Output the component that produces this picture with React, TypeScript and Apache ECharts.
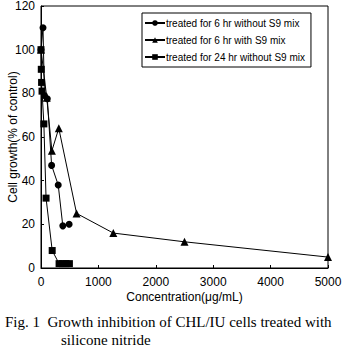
import React, { useEffect, useRef } from "react";
import * as echarts from "echarts";

const seriesNames = [
  "treated for 6 hr without S9 mix",
  "treated for 6 hr with S9 mix",
  "treated for 24 hr without S9 mix",
];

const circleData: [number, number][] = [
  [0, 100], [35, 110], [60, 79], [110, 77.5], [185, 47], [300, 38], [380, 19.3], [490, 20],
];
const triangleData: [number, number][] = [
  [0, 100], [100, 78], [190, 53.7], [310, 64], [620, 25], [1260, 16], [2500, 12], [5000, 5],
];
const squareData: [number, number][] = [
  [0, 100], [5, 91], [10, 85], [18, 81], [50, 66], [88, 32], [195, 8], [315, 2], [375, 2], [435, 2], [495, 2],
];

const xTicks = [0, 1000, 2000, 3000, 4000, 5000];
const yTicks = [0, 20, 40, 60, 80, 100, 120];

const captionLine1 = "Fig. 1  Growth inhibition of CHL/IU cells treated with";
const captionLine2 = "silicone nitride";

export default function App() {
  const ref = useRef<HTMLDivElement>(null);
  useEffect(() => {
    if (!ref.current) return;
    const chart = echarts.init(ref.current, null, { renderer: "svg" });
    const font = "Liberation Sans, Arial, sans-serif";
    const mk = (name: string, data: [number, number][], symbol: string, size: number) => ({
      name,
      type: "line",
      data,
      symbol,
      symbolSize: size,
      lineStyle: { color: "#000", width: 1 },
      itemStyle: { color: "#000" },
      z: 3,
    });
    chart.setOption({
      animation: false,
      backgroundColor: "#fff",
      grid: {
        left: 41, right: 14, top: 6, bottom: 81,
        containLabel: false, outerBoundsMode: "none",
        show: true, borderColor: "#000", borderWidth: 1,
      },
      xAxis: {
        type: "value",
        min: xTicks[0],
        max: xTicks[xTicks.length - 1],
        interval: 1000,
        name: "Concentration(μg/mL)",
        nameLocation: "middle",
        nameGap: 23,
        nameMoveOverlap: false,
        nameTextStyle: { color: "#000", fontSize: 12, fontFamily: font },
        axisLine: { lineStyle: { color: "#000", width: 1 } },
        axisTick: { inside: true, length: 3, lineStyle: { color: "#000" } },
        axisLabel: { color: "#000", fontSize: 12, fontFamily: font, margin: 8, formatter: (v: number) => String(v) },
        splitLine: { show: false },
      },
      yAxis: {
        type: "value",
        min: yTicks[0],
        max: yTicks[yTicks.length - 1],
        interval: 20,
        name: "Cell growth(% of control)",
        nameLocation: "middle",
        nameGap: 22,
        nameMoveOverlap: false,
        nameTextStyle: { color: "#000", fontSize: 12, fontFamily: font },
        axisLine: { lineStyle: { color: "#000", width: 1 } },
        axisTick: { inside: true, length: 3, lineStyle: { color: "#000" } },
        axisLabel: { color: "#000", fontSize: 12, fontFamily: font, margin: 6, formatter: (v: number) => String(v) },
        splitLine: { show: false },
      },
      legend: {
        orient: "vertical",
        left: 142,
        top: 13,
        padding: [5, 6, 5, 2],
        itemGap: 7,
        itemWidth: 20,
        itemHeight: 7,
        borderColor: "#000",
        borderWidth: 1,
        backgroundColor: "#fff",
        textStyle: { color: "#000", fontSize: 10, fontFamily: font, padding: [0, 0, 0, -4] },
        data: seriesNames,
      },
      series: [
        mk(seriesNames[0], circleData, "circle", 7),
        mk(seriesNames[1], triangleData, "triangle", 8),
        mk(seriesNames[2], squareData, "rect", 7),
      ],
      graphic: [
        {
          type: "text",
          left: 5,
          top: 314,
          style: { text: captionLine1, fill: "#000", font: "15px 'Liberation Serif', 'Times New Roman', serif" },
        },
        {
          type: "text",
          left: 61,
          top: 332,
          style: { text: captionLine2, fill: "#000", font: "15px 'Liberation Serif', 'Times New Roman', serif" },
        },
      ],
    });
    return () => chart.dispose();
  }, []);
  return (
    <div
      ref={ref}
      style={{ position: "absolute", left: 0, top: 0, width: 342, height: 349 }}
    />
  );
}
